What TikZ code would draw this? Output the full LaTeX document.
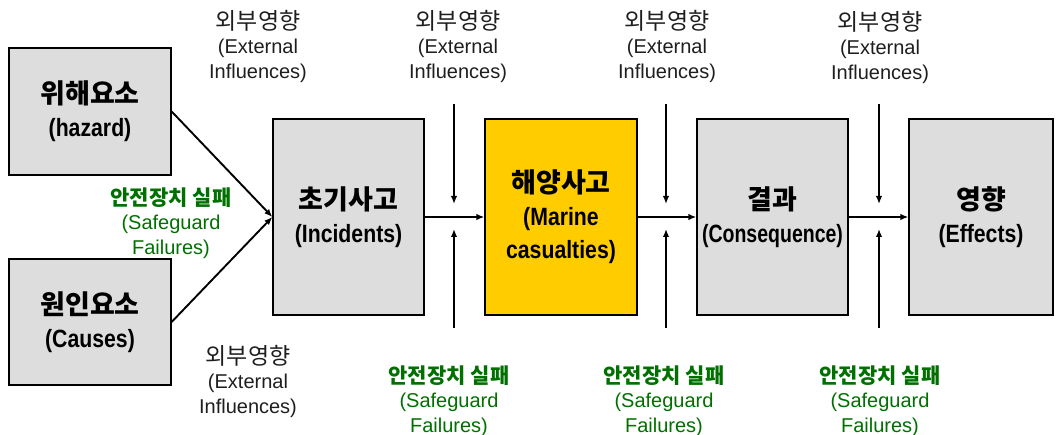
\documentclass[tikz,border=0pt]{standalone}
\usepackage{fontspec}
\setmainfont{Liberation Sans}
\newfontfamily\kr{Noto Sans CJK KR}
\newfontfamily\narrowsans[FakeStretch=0.85]{Liberation Sans}
\newfontfamily\narrowersans[FakeStretch=0.78]{Liberation Sans}
\usetikzlibrary{arrows.meta}
\definecolor{boxgray}{RGB}{221,221,221}
\definecolor{boxyellow}{RGB}{255,204,0}
\definecolor{sgreen}{RGB}{0,112,0}
\definecolor{lgray}{RGB}{30,30,30}
\newcommand{\bk}[1]{{\kr\bfseries\fontsize{27}{34}\selectfont #1}}
\newcommand{\lk}[1]{{\kr\fontsize{23}{24.5}\selectfont #1}}
\newcommand{\gk}[1]{{\kr\bfseries\fontsize{21}{24.5}\selectfont #1}}
\tikzset{
  box/.style={draw=black, line width=1.3pt, fill=boxgray, inner sep=0pt, align=center,
    font=\narrowsans\fontsize{25}{33}\selectfont\bfseries},
  ext/.style={align=center, text=lgray, font=\fontsize{20}{24.5}\selectfont},
  sg/.style={align=center, text=sgreen, font=\fontsize{20}{24.5}\selectfont},
  conn/.style={line width=1.9pt, -{Latex[length=8pt,width=6.5pt]}}
}
\begin{document}
\begin{tikzpicture}[x=1pt,y=-1pt]
\useasboundingbox (0,0) rectangle (1056,435);
\node[box, minimum width=162pt, minimum height=127pt] (h) at (90,111.5) {\bk{위해요소}\\(hazard)};
\node[box, minimum width=162pt, minimum height=126pt] (c) at (90,322) {\bk{원인요소}\\(Causes)};
\node[box, minimum width=151pt, minimum height=196pt] (inc) at (348.5,217) {\bk{초기사고}\\(Incidents)};
\node[box, fill=boxyellow, minimum width=152pt, minimum height=196pt] (mar) at (561,217) {\bk{해양사고}\\(Marine\\casualties)};
\node[box, minimum width=151pt, minimum height=196pt] (con) at (772.5,217) {\bk{결과}\\{\narrowersans(Consequence)}};
\node[box, minimum width=144pt, minimum height=196pt] (eff) at (981,217) {\bk{영향}\\(Effects)};

\draw[conn] (h.east) -- (inc.west);
\draw[conn] (c.east) -- (inc.west);
\draw[conn] (inc.east) -- (mar.west);
\draw[conn] (mar.east) -- (con.west);
\draw[conn] (con.east) -- (eff.west);

\foreach \n/\x in {a/454, b/666, d/879}{
  \coordinate (\n t1) at (\x,104);
  \coordinate (\n t2) at (\x,204);
  \coordinate (\n b1) at (\x,328);
  \coordinate (\n b2) at (\x,229);
  \draw[conn] (\n t1) -- (\n t2);
  \draw[conn] (\n b1) -- (\n b2);
}

\node[ext] (e1) at (258,46) {\lk{외부영향}\\(External\\Influences)};
\node[ext] (e2) at (458,46) {\lk{외부영향}\\(External\\Influences)};
\node[ext] (e3) at (667,46) {\lk{외부영향}\\(External\\Influences)};
\node[ext] (e4) at (880,47) {\lk{외부영향}\\(External\\Influences)};
\node[ext] (e5) at (248,381) {\lk{외부영향}\\(External\\Influences)};

\node[sg] (s1) at (171,223) {\gk{안전장치 실패}\\(Safeguard\\Failures)};
\node[sg] (s2) at (449,401) {\gk{안전장치 실패}\\(Safeguard\\Failures)};
\node[sg] (s3) at (664,401) {\gk{안전장치 실패}\\(Safeguard\\Failures)};
\node[sg] (s4) at (880,401) {\gk{안전장치 실패}\\(Safeguard\\Failures)};
\end{tikzpicture}
\end{document}
